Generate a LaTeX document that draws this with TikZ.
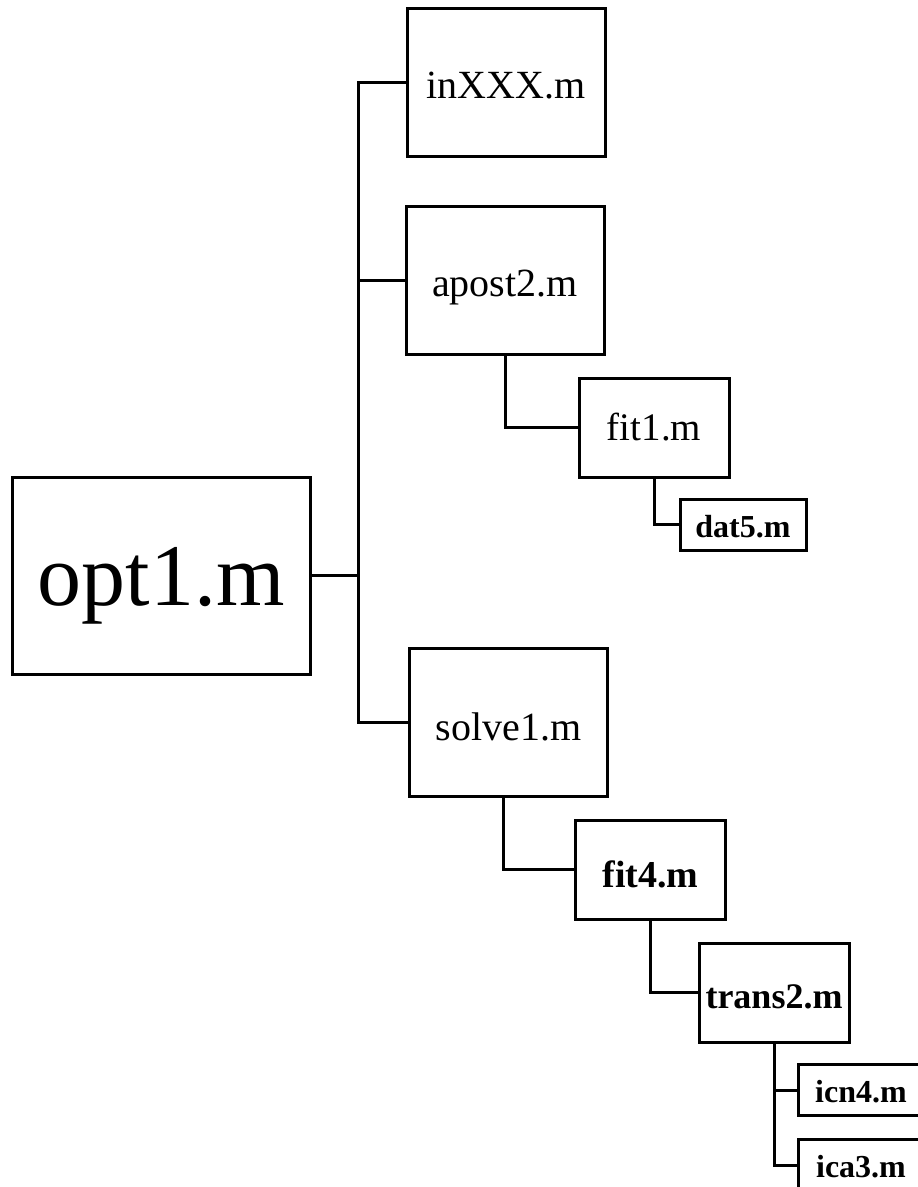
\documentclass[tikz,border=0pt]{standalone}
\usepackage{fontspec}
\setmainfont{Liberation Serif}
\usetikzlibrary{calc}

\begin{document}
\begin{tikzpicture}[
  x=0.5pt, y=-0.5pt,
  box/.style={draw, line width=1.5pt, inner sep=0pt, text depth=0pt},
  file/.style={box, minimum width=99pt, minimum height=74pt, text height=16pt,
    font=\fontsize{20}{24}\selectfont},
  sub/.style={box, minimum width=75pt, minimum height=49.5pt},
  leaf/.style={box, minimum width=63pt, minimum height=25.5pt, text height=12.5pt,
    font=\bfseries\fontsize{16}{19}\selectfont},
  link/.style={line width=1.5pt},
]
\useasboundingbox (0,0) rectangle (917,1187);

% Main script on the left
\node[box, minimum width=149pt, minimum height=98.5pt, text height=30pt,
  font=\fontsize{44}{52}\selectfont] (opt1) at (161,575.5) {opt1.m};

% First level: routines called from the main script
\node[file] (inXXX) at (506,83) {inXXX.m};
\node[file] (apost2) at (505,280.5) {apost2.m};
\node[file, text height=18pt] (solve1) at (508.5,722.5) {solve1.m};

% Upper branch
\node[sub, text height=12.5pt, font=\fontsize{19.5}{23}\selectfont] (fit1) at (654,427.5) {fit1.m};
\node[leaf] (dat5) at (743,524.5) {dat5.m};

% Lower branch, runs off the page at the bottom right
\node[sub, text height=18pt, font=\bfseries\fontsize{19}{23}\selectfont] (fit4) at (650.5,869.5) {fit4.m};
\node[sub, text height=15.5pt, font=\bfseries\fontsize{18}{22}\selectfont] (trans2) at (774,992.5) {trans2.m};
\node[leaf] (icn4) at (861,1090) {icn4.m};
\node[leaf] (ica3) at (861,1165) {ica3.m};

% Trunk from the main script
\coordinate (trunk) at (358,575.5);
\draw[link] (opt1.east) -- (trunk);
\foreach \f in {inXXX,apost2,solve1}
  \draw[link] (trunk) |- (\f.west);

% Calls further down the tree
\draw[link] (apost2.south) |- (fit1.west);
\draw[link] (fit1.south) |- (dat5.west);
\draw[link] ([xshift=-2.5pt]solve1.south) |- (fit4.west);
\draw[link] (fit4.south) |- (trans2.west);
\draw[link] (trans2.south) |- (icn4.west);
\draw[link] (trans2.south) |- (ica3.west);
\end{tikzpicture}
\end{document}
